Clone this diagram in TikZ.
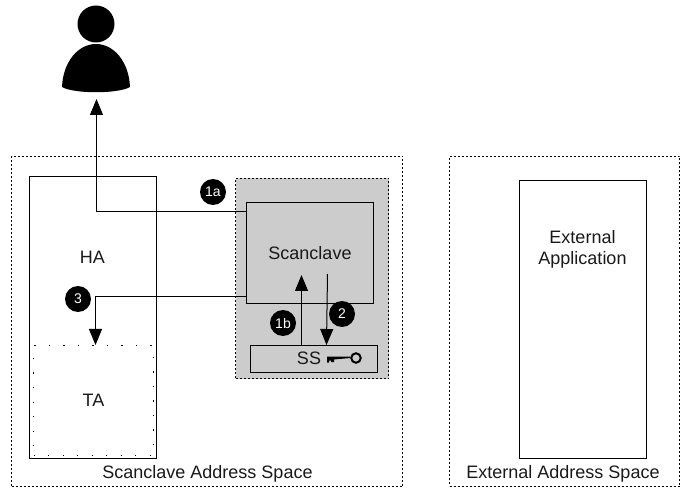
\documentclass[tikz,border=0pt]{standalone}
\usepackage{fontspec}
\setmainfont{Liberation Sans}
\usetikzlibrary{arrows.meta}
\begin{document}
\begin{tikzpicture}
[   x=1pt,y=-1pt,
    every node/.style={font=\fontsize{18}{21}\selectfont,text=black!90},
    cbox/.style n args={2}{draw=black,line width=1pt,minimum width=#1,minimum height=#2,inner sep=0pt,align=center},
    space/.style n args={2}{cbox={#1}{#2},line width=1.3pt,dash pattern=on 2pt off 2pt},
    badge/.style={circle,fill=black,minimum size=26pt,inner sep=0pt,text=white,font=\fontsize{14}{16}\selectfont},
    link/.style={draw=black,line width=1pt,-{Triangle[length=16pt,width=13pt]}},
]
    \useasboundingbox (0,0) rectangle (686,489);
    % address spaces
    \node[space={391pt}{330pt}] (scan-space) at (207,321.5) {};
    \node[space={230pt}{330pt}] (ext-space) at (564.5,321.5) {};
    \node[space={153pt}{200pt},fill=black!20] (enclave) at (312,278.5) {};

    \node[cbox={127pt}{281pt}] (ha) at (93,317.5) {};
    \node[cbox={127pt}{277pt}] (ext-app) at (582.5,319.5) {};
    \node[cbox={127pt}{101pt}] (scanclave) at (310,253) {Scanclave};
    \node[cbox={127pt}{27pt}] (ss) at (314,359) {};
    \node[cbox={120pt}{110pt},line width=1.3pt,dash pattern=on 1.3pt off 13.2pt] (ta) at (93.5,400.5) {TA};

    \node (ha-text) at (92.5,257) {HA};
    \node[align=center] (ext-text) at (582.5,249) {External\\Application};
    \node (ss-text) at (309,358) {SS};
    \node (scan-text) at (207.5,474) {Scanclave Address Space};
    \node (ext-label) at (563,474) {External Address Space};

    % user
    \node[circle,fill=black,minimum size=37pt,inner sep=0pt] (head) at (96,24) {};
    \fill[black] (62,87) .. controls (63,62) and (78,44) .. (96,44)
        .. controls (114,44) and (129,62) .. (130,87)
        .. controls (118,94) and (74,94) .. (62,87) -- cycle;
    \coordinate (user) at (96.5,99);

    % key
    \node[circle,draw=black,line width=2pt,minimum size=9.5pt,inner sep=0pt] (ring) at (356,358) {};
    \fill[black] (ring.west) ++(0,-1.5) -- (327,356.5) -- (327,362.5) -- (329,362.5) -- (329,360.5)
        -- (331,360.5) -- (331,362) -- (334,362) -- (334,359.5) -- (ring.west) -- cycle;

    \coordinate (a-out) at (247,211.5);
    \coordinate (c-out) at (247,296.5);
    \coordinate (ta-top) at (95.5,345);
    \coordinate (b-start) at (301.5,345);
    \coordinate (b-end) at (301.5,275);
    \coordinate (s-start) at (327.5,274);
    \coordinate (s-end) at (326.5,345);

    \draw[link] (a-out) -| (user);
    \draw[link] (c-out) -| (ta-top);
    \draw[link] (b-start) -- (b-end);
    \draw[link] (s-start) -- (s-end);

    \foreach \k/\x/\y in {1a/213/192,1b/283/323,2/342/314,3/78/299}
    {
        \node[badge] (n-\k) at (\x,\y) {\k};
    }
\end{tikzpicture}
\end{document}
